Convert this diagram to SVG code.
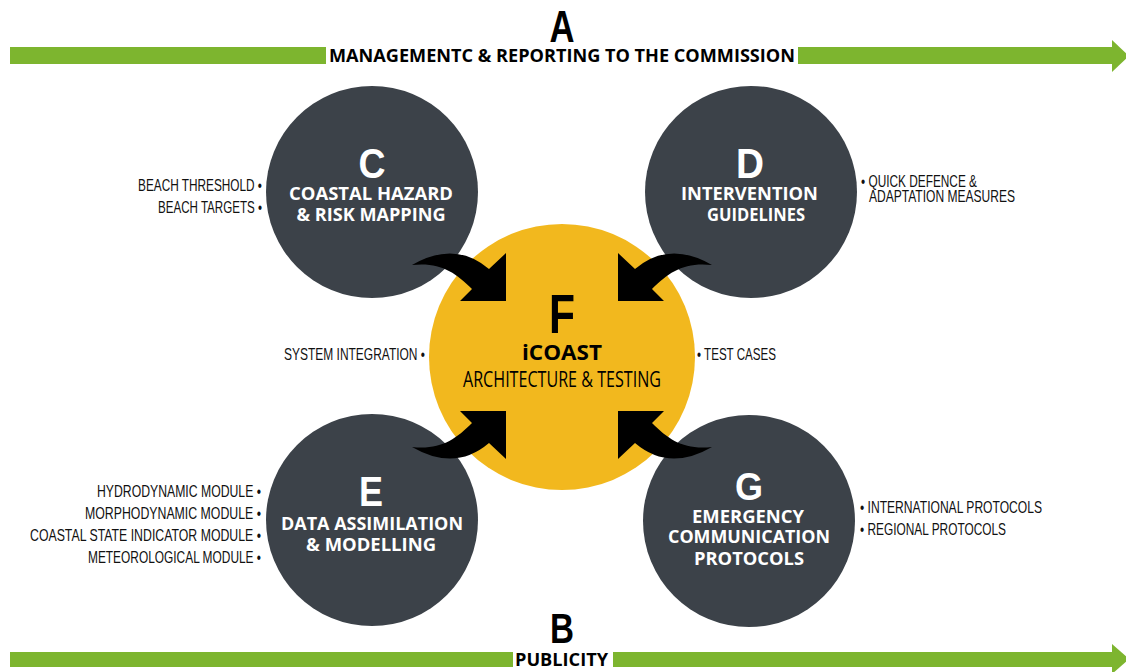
<svg xmlns="http://www.w3.org/2000/svg" xmlns:xlink="http://www.w3.org/1999/xlink" width="1126" height="672" viewBox="0 0 1126 672">
<style>
.bar{fill:#7db52f}
.node{fill:#3c4249}
.core{fill:#f2b81e}
.big{font-family:"Liberation Sans","Open Sans",sans-serif;font-weight:bold;text-anchor:middle}
.wl{font-family:"Open Sans","Liberation Sans",sans-serif;font-weight:bold;font-size:18px;fill:#fff;text-anchor:middle}
.side{font-family:"Liberation Sans","DejaVu Sans",sans-serif;font-size:16.5px;fill:#111}
.ttl{font-family:"Open Sans","Liberation Sans",sans-serif;font-weight:bold;font-size:18px;fill:#000}
.arr{fill:#000}
</style>
<defs>
<path id="swoosh" d="M 412,265 Q 455,240 489,269 L 506,253 L 506,301 L 460,301 L 472,289 C 455,272 440,262 412,265 Z"/>
</defs>
<rect width="1126" height="672" fill="#fff"/>

<g id="bar-a">
<rect class="bar" x="10" y="47" width="1104" height="17"/>
<polygon class="bar" points="1112,40 1112,72 1129,56"/>
<rect x="326" y="44" width="472" height="23" fill="#fff"/>
<text class="ttl" x="329" y="62" textLength="466" lengthAdjust="spacingAndGlyphs">MANAGEMENTC &amp; REPORTING TO THE COMMISSION</text>
<text class="big" x="562" y="42" font-size="44" textLength="25" lengthAdjust="spacingAndGlyphs">A</text>
</g>

<g id="bar-b">
<rect class="bar" x="10" y="652" width="1104" height="15"/>
<polygon class="bar" points="1112,644 1112,674 1129,659"/>
<rect x="513" y="648" width="100" height="24" fill="#fff"/>
<text class="ttl" x="515" y="666" textLength="93" lengthAdjust="spacingAndGlyphs">PUBLICITY</text>
<text class="big" x="562" y="643" font-size="42" textLength="24" lengthAdjust="spacingAndGlyphs">B</text>
</g>

<g id="node-c">
<circle class="node" cx="372" cy="192" r="106"/>
<text class="big" x="372" y="178" font-size="42" fill="#fff" textLength="27" lengthAdjust="spacingAndGlyphs">C</text>
<text class="wl" x="371" y="200" textLength="164" lengthAdjust="spacingAndGlyphs">COASTAL HAZARD</text>
<text class="wl" x="371" y="221" textLength="149" lengthAdjust="spacingAndGlyphs">&amp; RISK MAPPING</text>
<text class="side" x="138" y="191" textLength="124" lengthAdjust="spacingAndGlyphs">BEACH THRESHOLD •</text>
<text class="side" x="158" y="213" textLength="104" lengthAdjust="spacingAndGlyphs">BEACH TARGETS •</text>
</g>

<g id="node-d">
<circle class="node" cx="751" cy="192" r="106"/>
<text class="big" x="750" y="178" font-size="42" fill="#fff" textLength="28" lengthAdjust="spacingAndGlyphs">D</text>
<text class="wl" x="749.5" y="200" textLength="137" lengthAdjust="spacingAndGlyphs">INTERVENTION</text>
<text class="wl" x="756" y="221" textLength="98" lengthAdjust="spacingAndGlyphs">GUIDELINES</text>
<text class="side" x="861" y="187" textLength="116" lengthAdjust="spacingAndGlyphs">• QUICK DEFENCE &amp;</text>
<text class="side" x="869" y="202" textLength="146" lengthAdjust="spacingAndGlyphs">ADAPTATION MEASURES</text>
</g>

<g id="node-e">
<circle class="node" cx="372" cy="520" r="106"/>
<text class="big" x="371" y="506" font-size="42" fill="#fff" textLength="24" lengthAdjust="spacingAndGlyphs">E</text>
<text class="wl" x="372" y="530" textLength="182" lengthAdjust="spacingAndGlyphs">DATA ASSIMILATION</text>
<text class="wl" x="371" y="551" textLength="130" lengthAdjust="spacingAndGlyphs">&amp; MODELLING</text>
<text class="side" x="97" y="497" textLength="164" lengthAdjust="spacingAndGlyphs">HYDRODYNAMIC MODULE •</text>
<text class="side" x="85" y="519" textLength="176" lengthAdjust="spacingAndGlyphs">MORPHODYNAMIC MODULE •</text>
<text class="side" x="30" y="541" textLength="231" lengthAdjust="spacingAndGlyphs">COASTAL STATE INDICATOR MODULE •</text>
<text class="side" x="88" y="563" textLength="173" lengthAdjust="spacingAndGlyphs">METEOROLOGICAL MODULE •</text>
</g>

<g id="node-g">
<circle class="node" cx="749" cy="521" r="106"/>
<text class="big" x="749" y="500" font-size="38" fill="#fff" textLength="28" lengthAdjust="spacingAndGlyphs">G</text>
<text class="wl" x="748" y="523" textLength="112" lengthAdjust="spacingAndGlyphs">EMERGENCY</text>
<text class="wl" x="749" y="543" textLength="162" lengthAdjust="spacingAndGlyphs">COMMUNICATION</text>
<text class="wl" x="749" y="565" textLength="110" lengthAdjust="spacingAndGlyphs">PROTOCOLS</text>
<text class="side" x="860" y="513" textLength="182" lengthAdjust="spacingAndGlyphs">• INTERNATIONAL PROTOCOLS</text>
<text class="side" x="860" y="535" textLength="146" lengthAdjust="spacingAndGlyphs">• REGIONAL PROTOCOLS</text>
</g>

<g id="node-f">
<circle class="core" cx="562" cy="357" r="133"/>
<text class="big" x="562" y="333" font-size="56" fill="#000" textLength="26" lengthAdjust="spacingAndGlyphs">F</text>
<text x="562" y="360" font-family="'Open Sans','Liberation Sans',sans-serif" font-weight="bold" font-size="22" fill="#000" text-anchor="middle" textLength="80" lengthAdjust="spacingAndGlyphs">iCOAST</text>
<text x="562" y="387" font-family="'Open Sans','Liberation Sans',sans-serif" font-size="21" fill="#000" text-anchor="middle" textLength="198" lengthAdjust="spacingAndGlyphs">ARCHITECTURE &amp; TESTING</text>
<text class="side" x="284" y="360" textLength="141" lengthAdjust="spacingAndGlyphs">SYSTEM INTEGRATION •</text>
<text class="side" x="697" y="360" textLength="79" lengthAdjust="spacingAndGlyphs">• TEST CASES</text>
</g>

<g id="connectors">
<use xlink:href="#swoosh" class="arr"/>
<use xlink:href="#swoosh" class="arr" transform="translate(1124,0) scale(-1,1)"/>
<use xlink:href="#swoosh" class="arr" transform="translate(0,712) scale(1,-1)"/>
<use xlink:href="#swoosh" class="arr" transform="translate(1124,712) scale(-1,-1)"/>
</g>
</svg>
